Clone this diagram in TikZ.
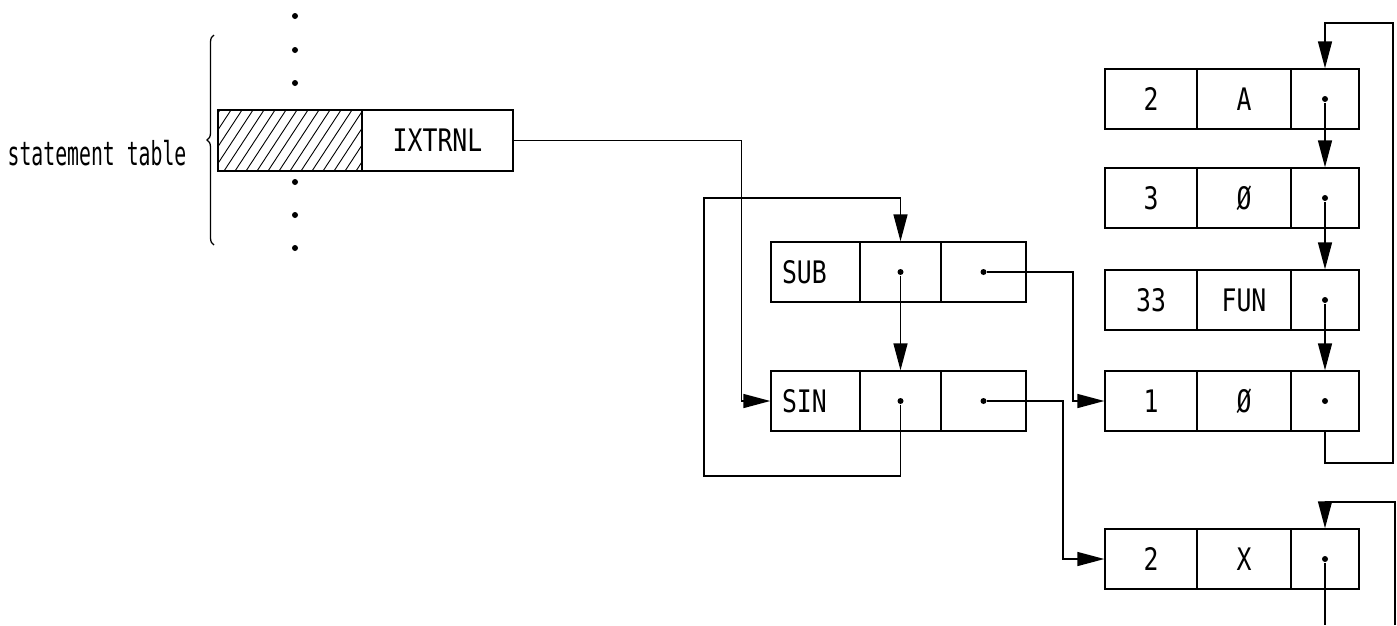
\documentclass[tikz,border=0pt]{standalone}
\usepackage{fontspec}
\newfontfamily\capsf[FakeStretch=0.8]{DejaVu Sans Mono}
\newfontfamily\lowf[FakeStretch=0.6]{DejaVu Sans Mono}
\usetikzlibrary{arrows.meta,decorations.pathreplacing}
\begin{document}
\begin{tikzpicture}[x=1pt,y=-1pt,line width=1.5pt,
  cell/.style={draw,rectangle,inner sep=0pt,minimum height=60pt,line width=1.4pt,font=\capsf\fontsize{31pt}{33pt}\selectfont},
  lcell/.style={cell,text width=67pt,align=left},
  dot/.style={circle,fill,inner sep=0pt,minimum size=6pt},
  arr/.style={-{Triangle[length=27pt,width=14pt]}},
  lbl/.style={font=\lowf\fontsize{33pt}{35pt}\selectfont}]
\useasboundingbox (0,0) rectangle (1397,625);

% statement table
\node[lbl] (stl) at (97,153) {statement table};
\draw[decorate,decoration={brace,amplitude=7pt},line width=1.3pt] (214,245) -- (214,35);
\node[cell,minimum width=144pt,minimum height=61pt] (hat) at (290,140.5) {};
\node[cell,minimum width=151pt,minimum height=61pt] (ix) at (437.5,140.5) {IXTRNL};
\begin{scope}
  \clip (hat.south west) rectangle (hat.north east);
  \foreach \i in {0,...,17} \draw[line width=0.9pt] (180+\i*11,171) -- ++(40,-61);
\end{scope}
\foreach \yy [count=\k] in {16,50,83,182,215,248} \node[dot] (v\k) at (295,\yy) {};

% middle cells
\node[lcell,minimum width=89pt] (sub1) at (815.5,272) {SUB};
\node[cell,minimum width=81pt] (sub2) at (900.5,272) {};
\node[cell,minimum width=85pt] (sub3) at (983.5,272) {};
\node[lcell,minimum width=89pt] (sin1) at (815.5,401) {SIN};
\node[cell,minimum width=81pt] (sin2) at (900.5,401) {};
\node[cell,minimum width=85pt] (sin3) at (983.5,401) {};
\node[dot] (subd2) at (sub2.center) {};
\node[dot] (subd3) at (sub3.center) {};
\node[dot] (sind2) at (sin2.center) {};
\node[dot] (sind3) at (sin3.center) {};

% right column
\foreach \nm/\yy/\a/\b in {1/99/2/A,2/198/3/Ø,3/300/33/FUN,4/401/1/Ø,5/559/2/X}{
  \node[cell,minimum width=92pt] (r\nm a) at (1151,\yy) {\a};
  \node[cell,minimum width=94pt] (r\nm b) at (1244,\yy) {\b};
  \node[cell,minimum width=68pt] (r\nm c) at (1325,\yy) {};
  \node[dot] (d\nm) at (r\nm c.center) {};
}

% connectors
\draw[arr] (ix.east) -- ++(228,0) |- (sin1.west);
\draw[arr] (subd2) -- (sin2.north);
\coordinate (lA) at (704,476);
\coordinate (lB) at (704,198);
\draw[arr] (sind2) |- (lA) -- (lB) -| (sub2.north);
\coordinate (jA) at (1073,300);
\draw[arr] (subd3) -| (jA) |- (r4a.west);
\coordinate (jB) at (1063,480);
\draw[arr] (sind3) -| (jB) |- (r5a.west);
\draw[arr] (d1) -- (r2c.north);
\draw[arr] (d2) -- (r3c.north);
\draw[arr] (d3) -- (r4c.north);
\coordinate (t1) at (1393,463);
\coordinate (t2) at (1393,23);
\draw[arr] (r4c.south) |- (t1) -- (t2) -| (r1c.north);
\coordinate (xb) at (1395,625);
\coordinate (xt) at (1395,502);
\coordinate (xd) at (1325,625);
\draw (d5) -- (xd);
\draw[arr] (xb) -- (xt) -| (r5c.north);
\end{tikzpicture}
\end{document}
